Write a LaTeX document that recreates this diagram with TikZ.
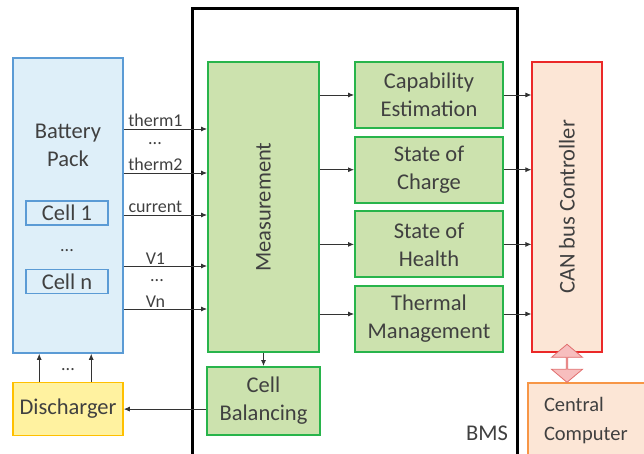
\documentclass[tikz,border=0pt]{standalone}
\usepackage{fontspec}
\setmainfont{Carlito}
\usepackage{xcolor}
\usetikzlibrary{shapes,arrows.meta,positioning,calc}

\definecolor{packfill}{RGB}{222,239,249}
\definecolor{packline}{RGB}{91,155,213}
\definecolor{bmsfill}{RGB}{204,226,174}
\definecolor{bmsline}{RGB}{40,180,75}
\definecolor{canfill}{RGB}{252,230,214}
\definecolor{canline}{RGB}{235,40,40}
\definecolor{ccline}{RGB}{247,150,70}
\definecolor{disfill}{RGB}{255,242,160}
\definecolor{disline}{RGB}{255,192,0}
\definecolor{txt}{RGB}{64,64,64}
\definecolor{linkfill}{RGB}{247,190,190}
\definecolor{linkline}{RGB}{225,110,110}

\begin{document}
\begin{tikzpicture}[x=1pt, y=-1pt,
    font=\fontsize{22.5}{28}\selectfont, text=txt,
    pack/.style={rectangle, draw=packline, fill=packfill, line width=1.6pt, inner sep=0pt},
    unit/.style={rectangle, draw=bmsline, fill=bmsfill, line width=2pt, align=center, inner sep=0pt},
    est/.style={unit, minimum width=148pt, minimum height=66pt},
    sig/.style={font=\fontsize{18}{20}\selectfont, inner sep=1.5pt},
    arrow/.style={-{Latex[length=6pt,width=5pt]}, line width=0.8pt, draw=black!80}
]
\useasboundingbox (0,0) rectangle (644,454);
\clip (0,0) rectangle (644,454);

% battery side
\node[pack, minimum width=110pt, minimum height=295pt] (pack) at (68,205.5) {};
\node[align=center] (packname) at (68,145) {Battery\\Pack};
\node[pack, minimum width=82pt, minimum height=24pt] (cell1) at (67,213) {Cell 1};
\node[pack, minimum width=82pt, minimum height=24pt, below=43pt of cell1] (celln) {Cell n};
\node[sig] (celldots) at ([yshift=-3pt]$(cell1)!0.5!(celln)$) {...};
\node[rectangle, draw=disline, fill=disfill, line width=1.6pt, minimum width=110pt, minimum height=53pt, below=28pt of pack] (dis) {Discharger};

% BMS
\draw[line width=3pt] (192,470) |- (517,9) -- (517,470);
\node (bmsname) at (487,433) {BMS};
\node[unit, minimum width=111pt, minimum height=290pt] (meas) at (263.5,207) {\rotatebox{90}{Measurement}};
\node[est, below right=0pt and 34pt of meas.north east] (cap) {Capability\\Estimation};
\node[est, below=6.7pt of cap] (soc) {State of\\Charge};
\node[est, below=6.7pt of soc] (soh) {State of\\Health};
\node[est, below=6.7pt of soh] (tm) {Thermal\\Management};
\node[unit, minimum width=113pt, minimum height=68pt, below=13pt of meas] (cb) {Cell\\Balancing};

% outside
\node[rectangle, draw=canline, fill=canfill, line width=1.2pt, minimum width=70pt, minimum height=290pt] (can) at (567,207) {\rotatebox{90}{CAN bus Controller}};
\node[rectangle, draw=ccline, fill=canfill, line width=2pt, text width=114pt, inner xsep=16pt, minimum height=76pt, align=left, font=\fontsize{20.5}{29}\selectfont, anchor=north west] (cc) at (527,382) {Central\\Computer};
\node[double arrow, draw=linkline, fill=linkfill, line width=0.8pt, rotate=90, minimum width=31pt, minimum height=38pt, double arrow head extend=7pt, double arrow tip angle=100, inner sep=0pt] (link) at ([yshift=4pt]$(can.south)!0.5!(can.south |- cc.north)$) {};

% signals
\foreach \y/\txt in {129/therm1, 173/therm2, 215/current, 266/V1, 309/Vn}
  \draw[arrow] (pack.east |- 0,\y) -- node[sig, above, pos=0.38] {\txt} (meas.west |- 0,\y);
\node[sig] (thdots) at (155,144) {...};
\node[sig] (vdots) at (157,281) {...};

\foreach \n in {cap,soc,soh} {
  \draw[arrow] (meas.east |- \n.west) -- (\n.west);
  \draw[arrow] (\n.east) -- (can.west |- \n.east);
}
\draw[arrow] (meas.east |- 0,314) -- (tm.west |- 0,314);
\draw[arrow] (tm.east |- 0,314) -- (can.west |- 0,314);
\draw[arrow] (meas) -- (cb);
\draw[arrow] (cb.west |- dis.east) -- (dis.east);
\draw[arrow] ([xshift=27pt]dis.north west) -- ([xshift=27pt]pack.south west);
\draw[arrow] ([xshift=79pt]dis.north west) -- ([xshift=79pt]pack.south west);
\node[sig] (disdots) at ([yshift=-2pt]$(dis.north)!0.5!(pack.south)$) {...};

\end{tikzpicture}
\end{document}
